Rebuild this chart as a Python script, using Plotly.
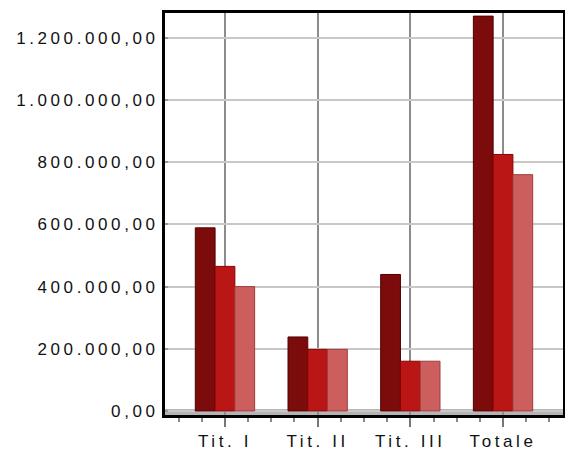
import plotly.graph_objects as go

categories = ["Tit. I", "Tit. II", "Tit. III", "Totale"]
series_a = [589000, 238000, 439000, 1270000]
series_b = [465000, 198000, 160000, 825000]
series_c = [400000, 198000, 160000, 760000]
y_tick_values = [0, 200000, 400000, 600000, 800000, 1000000, 1200000]
y_tick_labels = ["0,00", "200.000,00", "400.000,00", "600.000,00",
                 "800.000,00", "1.000.000,00", "1.200.000,00"]

x_pos = list(range(len(categories)))

fig = go.Figure()
for vals, fill, edge in [(series_a, "#7c0b0b", "#4f0000"),
                         (series_b, "#bb1616", "#8a0000"),
                         (series_c, "#cc5e5e", "#a23c3c")]:
    fig.add_trace(go.Bar(x=x_pos, y=vals, marker=dict(color=fill, line=dict(color=edge, width=1)),
                         showlegend=False, hoverinfo="skip"))

fig.add_shape(type="rect", xref="paper", yref="y", x0=0, x1=1, y0=-13000, y1=6000,
              fillcolor="#b4b4b4", line=dict(width=0), layer="below")

font = dict(family="Liberation Sans, Arial, sans-serif", size=17, color="#111111")

fig.update_layout(
    width=565, height=453,
    margin=dict(l=165, r=2, t=13, b=38),
    paper_bgcolor="white", plot_bgcolor="white",
    barmode="group", bargap=0.36, bargroupgap=0,
    font=font,
    xaxis=dict(range=[-0.647, 3.647], tickmode="array", tickvals=x_pos, ticktext=categories,
               showgrid=True, gridcolor="#8c8c8c", gridwidth=2,
               ticks="outside", ticklen=9, tickwidth=2, tickcolor="#777",
               minor=dict(dtick=0.25, tick0=0, ticks="outside", ticklen=4, tickwidth=2,
                          tickcolor="#888", showgrid=False),
               showline=True, linecolor="black", linewidth=3, mirror=True,
               zeroline=False, fixedrange=True, automargin=False),
    yaxis=dict(range=[-13000, 1280000], tickmode="array", tickvals=y_tick_values,
               ticktext=y_tick_labels, showgrid=True, gridcolor="#c8c8c8", gridwidth=2,
               ticks="inside", ticklen=3, tickwidth=2, tickcolor="#999",
               showline=True, linecolor="black", linewidth=3, mirror=True,
               zeroline=False, fixedrange=True, ticklabelstandoff=0, automargin=False),
)

post = ("document.body.style.margin='0';document.body.style.padding='0';"
        "document.querySelectorAll('.xtick text, .ytick text').forEach(function(t){"
        "t.style.letterSpacing='3.6px';});")
fig.write_html("out.html", config={"displayModeBar": False, "responsive": False}, post_script=post)
